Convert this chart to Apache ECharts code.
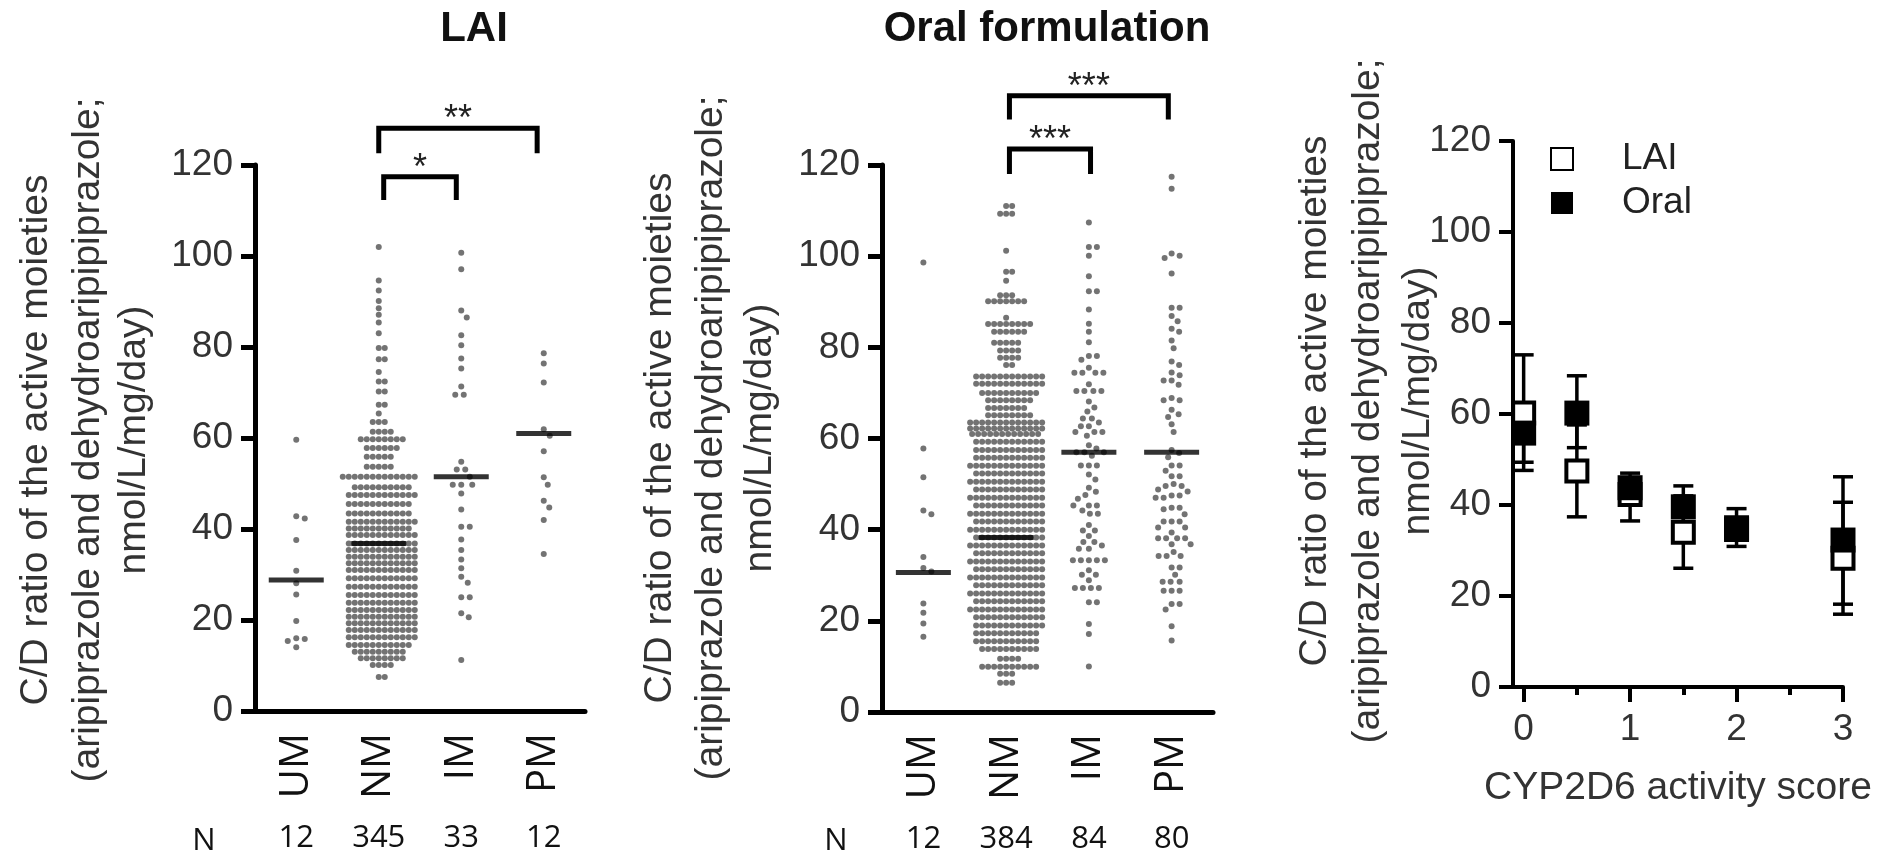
<!DOCTYPE html>
<html>
<head>
<meta charset="utf-8">
<title>CYP2D6 phenotype and aripiprazole C/D ratio</title>
<script src="https://cdn.jsdelivr.net/npm/echarts@6.0.0/dist/echarts.min.js"></script>
<style>
  html, body { margin: 0; padding: 0; background: #fff; }
  #chart { width: 1880px; height: 858px; }
</style>
</head>
<body>
<div id="chart"></div>
<script>
// ---- data ----
const phenotypes = ['UM', 'NM', 'IM', 'PM'];
const laiN = [12, 345, 33, 12];
const oralN = [12, 384, 84, 80];

// LAI panel
const laiUM = [59.6, 42.8, 42.3, 37.6, 30.8, 28.1, 25.6, 19.8, 16.0, 15.8, 15.4, 14.0];
// NM is dense, read as rows of dots: [value, dots in row]
const laiNMRows = [
  [102.0, 1], [94.6, 1], [92.4, 1], [90.1, 1], [88.5, 1], [87.1, 1], [85.4, 1], [83.0, 1],
  [79.8, 2], [77.3, 2], [74.5, 1], [72.4, 2], [70.2, 2], [67.3, 2], [65.4, 1], [63.5, 3],
  [61.4, 4], [59.7, 8], [57.8, 6], [55.9, 5], [53.7, 5], [51.5, 13], [49.2, 10], [47.5, 12],
  [45.5, 11], [43.4, 11], [41.6, 12], [40.1, 11], [38.7, 12], [36.8, 12], [35.4, 12], [33.9, 12],
  [32.5, 12], [31.0, 12], [29.2, 12], [27.3, 12], [25.5, 12], [23.8, 12], [22.2, 12], [20.7, 12],
  [19.3, 12], [17.8, 12], [16.2, 12], [14.5, 11], [13.0, 9], [11.6, 8], [10.1, 4], [7.5, 2]
];
const laiIM = [100.7, 97.1, 88.0, 86.5, 82.6, 80.4, 77.5, 75.3, 71.3, 69.5, 69.5, 54.8, 53.1, 53.1,
  51.5, 49.7, 49.7, 49.7, 47.8, 44.3, 40.5, 40.5, 37.7, 35.4, 33.3, 31.4, 29.5, 28.2, 25.0, 25.0,
  21.5, 20.6, 11.2];
const laiPM = [78.6, 76.4, 72.2, 61.9, 60.5, 57.1, 51.4, 49.7, 46.2, 44.7, 42.0, 34.5];
const laiMedians = [28.8, 36.8, 51.5, 61.0];
// brackets: [from, to, top, leg end]
const laiBrackets = [[1, 2.92, 128.1, 122.6], [1.06, 1.94, 117.4, 112.3]];
const laiStars = ['**', '*'];

// Oral panel
const oralUM = [98.6, 57.8, 51.5, 44.2, 43.4, 34.0, 31.6, 30.8, 23.8, 21.8, 19.4, 16.5];
const oralNMRows = [
  [111.0, 2], [109.3, 3], [101.2, 1], [96.6, 2], [94.6, 1], [91.4, 3], [90.1, 7], [86.5, 1],
  [85.1, 8], [83.4, 6], [81.0, 5], [79.3, 4], [77.7, 4], [76.1, 2], [73.6, 12], [72.0, 12],
  [70.0, 10], [68.4, 8], [66.7, 7], [65.1, 8], [63.5, 13], [62.2, 13], [61.0, 12], [59.3, 12],
  [57.5, 12], [55.8, 12], [54.0, 13], [52.3, 12], [50.5, 13], [48.8, 12], [47.0, 13], [45.3, 12],
  [43.5, 13], [41.8, 12], [40.0, 13], [38.3, 12], [36.5, 13], [34.8, 12], [33.0, 13], [31.3, 12],
  [29.5, 13], [27.8, 12], [26.0, 13], [24.3, 12], [22.5, 13], [20.8, 12], [19.0, 12], [17.3, 11],
  [15.5, 11], [13.8, 10], [11.7, 4], [9.9, 10], [8.4, 3], [6.4, 3]
];
const oralIM = [107.4, 102.0, 102.0, 100.1, 95.6, 92.3, 92.3, 88.3, 85.2, 83.4, 81.1, 78.1, 78.1,
  77.3, 75.5, 74.4, 74.4, 74.4, 74.4, 71.9, 70.4, 70.4, 70.4, 70.4, 68.1, 66.8, 65.9, 64.4, 64.4,
  63.5, 62.7, 62.7, 61.4, 61.4, 61.4, 60.6, 58.5, 57.8, 57.0, 57.0, 57.0, 56.2, 54.1, 54.1, 54.1,
  52.1, 51.0, 49.2, 48.3, 47.6, 46.8, 45.3, 45.3, 45.3, 44.2, 43.5, 43.5, 41.0, 39.8, 39.8, 38.6,
  37.3, 37.3, 36.5, 35.8, 35.8, 33.3, 33.3, 33.3, 33.3, 33.3, 31.1, 30.1, 30.1, 28.9, 27.2, 27.2,
  27.2, 27.2, 24.1, 24.1, 19.3, 17.1, 10.0];
const oralPM = [117.4, 114.8, 100.6, 100.1, 99.6, 96.2, 88.7, 88.7, 86.9, 85.7, 84.1, 83.4, 81.5,
  79.8, 76.9, 76.1, 74.5, 73.9, 72.7, 72.7, 71.8, 68.9, 68.4, 68.4, 66.3, 65.3, 64.7, 63.1, 61.4,
  57.5, 56.8, 55.9, 54.1, 54.1, 52.9, 51.7, 51.7, 50.0, 49.6, 49.6, 48.8, 48.4, 47.5, 47.5, 47.0,
  47.0, 44.8, 44.8, 44.5, 43.4, 41.8, 41.8, 41.8, 40.5, 40.5, 39.4, 38.1, 38.1, 38.1, 38.1, 36.8,
  36.8, 35.1, 34.2, 34.2, 34.2, 31.7, 31.7, 30.1, 28.6, 28.6, 28.6, 26.6, 26.6, 26.6, 23.7, 23.7,
  22.5, 18.8, 15.7];
const oralMedians = [30.6, 38.3, 57.0, 57.0];
const oralBrackets = [[1.04, 2.96, 135.2, 130.0], [1.04, 2.02, 123.5, 118.0]];
const oralStars = ['***', '***'];

// Activity score panel (mean with error bar)
const activityScores = [0, 0.5, 1, 1.5, 2, 3];
const laiMean = [60.2, 47.5, 42.3, 34.0, 34.6, 28.3];
const laiLow = [47.6, 37.4, 36.5, 26.1, 33.0, 16.0];
const laiHigh = [73.0, 57.6, 46.0, 42.0, 36.2, 40.6];
const oralMean = [55.8, 60.2, 43.8, 39.6, 35.0, 32.3];
const oralLow = [49.4, 52.6, 41.2, 35.0, 30.9, 18.2];
const oralHigh = [62.2, 68.4, 47.0, 44.2, 39.2, 46.2];
const scoreTicks = [0, 1, 2, 3];
const halfTicks = [0.5, 1.5, 2.5];

const yNameLines = ['C/D ratio of the active moieties', '(aripiprazole and dehydroaripipiprazole;', 'nmol/L/mg/day)'];

// ---- layout ----
const grids = [
  { left: 255, top: 165, width: 330, height: 546 },
  { left: 882, top: 165, width: 331, height: 547 },
  { left: 1513, top: 141, width: 330, height: 546 }
];
const FONT = 'Liberation Sans';
const CAT_FONT = 'Open Sans';
const DOT = '#505050';

function expand(rows) {
  const out = [];
  rows.forEach(([v, n]) => { for (let i = 0; i < n; i++) out.push(v); });
  return out;
}

// simple beeswarm: put each dot as close to the centre as it can go without overlap
function swarm(values, cat, gap, grid) {
  const pxX = grid.width / 4;
  const pxY = grid.height / 120;
  const placed = [];
  values.slice().sort((a, b) => b - a).forEach((v) => {
    const y = v * pxY;
    for (let k = 0; k < 2000; k++) {
      const dx = (k % 2 ? 1 : -1) * Math.ceil(k / 2) * 0.5;
      const ok = placed.every((p) => Math.abs(p[1] - y) >= gap || (p[0] - dx) ** 2 + (p[1] - y) ** 2 >= gap * gap);
      if (ok) { placed.push([dx, y, v]); break; }
    }
  });
  return placed.map((p) => [cat + p[0] / pxX, p[2]]);
}

function panelDots(groups, grid) {
  let pts = [];
  groups.forEach((g, i) => { pts = pts.concat(swarm(g.values, i, g.gap, grid)); });
  return pts;
}

const laiDots = panelDots([
  { values: laiUM, gap: 8.5 }, { values: expand(laiNMRows), gap: 5.7 },
  { values: laiIM, gap: 8.5 }, { values: laiPM, gap: 8.5 }
], grids[0]);
const oralDots = panelDots([
  { values: oralUM, gap: 8.5 }, { values: expand(oralNMRows), gap: 5.8 },
  { values: oralIM, gap: 8 }, { values: oralPM, gap: 8 }
], grids[1]);

function catAxis(grid) {
  return {
    type: 'category', gridIndex: grid, position: 'bottom', data: phenotypes, boundaryGap: true,
    axisLine: { onZero: false, lineStyle: { color: '#000', width: 5 } },
    axisTick: { alignWithLabel: true, length: 14, lineStyle: { color: '#000', width: 5 } },
    axisLabel: { rotate: 90, margin: 22, fontSize: 40, fontFamily: CAT_FONT, color: '#111', interval: 0 },
    splitLine: { show: false }
  };
}
function nAxis(grid, counts) {
  return {
    type: 'category', gridIndex: grid, position: 'bottom', offset: 104, data: counts.map(String),
    boundaryGap: true, axisLine: { show: false }, axisTick: { show: false },
    axisLabel: { margin: 8, fontSize: 31, fontFamily: CAT_FONT, color: '#111', interval: 0 },
    splitLine: { show: false }
  };
}
function hiddenX(grid) {
  return { type: 'value', gridIndex: grid, min: -0.5, max: 3.5, show: false };
}
function yAxis(grid, w) {
  return {
    type: 'value', gridIndex: grid, min: 0, max: 120, interval: 20,
    axisLine: { show: true, onZero: false, lineStyle: { color: '#000', width: w } },
    axisTick: { show: true, length: 14, lineStyle: { color: '#000', width: w } },
    axisLabel: { margin: 22, fontSize: 37, fontFamily: FONT, color: '#333' },
    splitLine: { show: false }
  };
}

function bracketRenderer(stars) {
  return function (params, api) {
    const a = api.coord([api.value(0), api.value(3)]);
    const b = api.coord([api.value(0), api.value(2)]);
    const c = api.coord([api.value(1), api.value(2)]);
    const d = api.coord([api.value(1), api.value(3)]);
    return {
      type: 'group',
      children: [
        { type: 'polyline', shape: { points: [a, b, c, d] },
          style: { stroke: '#000', lineWidth: 5, fill: 'none', lineJoin: 'miter' } },
        { type: 'text', x: (b[0] + c[0]) / 2, y: b[1] + 10,
          style: { text: stars[params.dataIndex], fill: '#222', fontSize: 36, fontFamily: FONT,
            align: 'center', verticalAlign: 'bottom' } }
      ]
    };
  };
}

function errorBarRenderer(params, api) {
  const x = api.value(0);
  const lo = api.coord([x, api.value(1)]);
  const hi = api.coord([x, api.value(2)]);
  const cap = 10;
  const st = { stroke: '#000', lineWidth: 3.5 };
  return {
    type: 'group',
    children: [
      { type: 'line', shape: { x1: lo[0], y1: lo[1], x2: hi[0], y2: hi[1] }, style: st },
      { type: 'line', shape: { x1: lo[0] - cap, y1: lo[1], x2: lo[0] + cap, y2: lo[1] }, style: st },
      { type: 'line', shape: { x1: hi[0] - cap, y1: hi[1], x2: hi[0] + cap, y2: hi[1] }, style: st }
    ]
  };
}

function medianData(meds) {
  return meds.map((m, i) => [i, m]);
}

const yNameX = [[36, 88, 134], [660, 711, 760], [1315, 1368, 1418]];
const yNameY = [440, 438, 401];
const graphics = [];
yNameX.forEach((xs, p) => {
  xs.forEach((x, i) => {
    graphics.push({
      type: 'text', x: x, y: yNameY[p], rotation: Math.PI / 2,
      style: { text: yNameLines[i], fontSize: 39, fontFamily: FONT, fill: '#333', align: 'center', verticalAlign: 'middle' }
    });
  });
});
graphics.push(
  { type: 'text', x: 474, y: 29, style: { text: 'LAI', fontSize: 42, fontWeight: 'bold', fontFamily: FONT, fill: '#111', align: 'center', verticalAlign: 'middle' } },
  { type: 'text', x: 1047, y: 29, style: { text: 'Oral formulation', fontSize: 42, fontWeight: 'bold', fontFamily: FONT, fill: '#111', align: 'center', verticalAlign: 'middle' } },
  { type: 'text', x: 204, y: 841, style: { text: 'N', fontSize: 31, fontFamily: CAT_FONT, fill: '#111', align: 'center', verticalAlign: 'middle' } },
  { type: 'text', x: 836, y: 841, style: { text: 'N', fontSize: 31, fontFamily: CAT_FONT, fill: '#111', align: 'center', verticalAlign: 'middle' } }
);

const chart = echarts.init(document.getElementById('chart'), null, { renderer: 'canvas' });

const option = {
  animation: false,
  backgroundColor: '#fff',
  graphic: graphics,
  legend: {
    data: [{ name: 'LAI', icon: 'rect' }, { name: 'Oral', icon: 'rect' }],
    orient: 'vertical', left: 1545, top: 134, itemWidth: 22, itemHeight: 22, itemGap: 4,
    textStyle: { fontSize: 37, fontFamily: FONT, color: '#222', lineHeight: 40, padding: [0, 0, 0, 44] },
    selectedMode: false
  },
  grid: grids.map((g) => Object.assign({ containLabel: false, outerBoundsMode: 'none' }, g)),
  xAxis: [
    catAxis(0), hiddenX(0), nAxis(0, laiN),
    catAxis(1), hiddenX(1), nAxis(1, oralN),
    {
      type: 'value', gridIndex: 2, position: 'bottom', min: -0.1, max: 3,
      axisLine: { onZero: false, lineStyle: { color: '#000', width: 4 } },
      axisTick: { show: true, customValues: scoreTicks, length: 15, lineStyle: { color: '#000', width: 4 } },
      axisLabel: { customValues: scoreTicks, margin: 24, fontSize: 37, fontFamily: FONT, color: '#333' },
      splitLine: { show: false },
      name: 'CYP2D6 activity score', nameLocation: 'middle', nameGap: 82,
      nameTextStyle: { fontSize: 39, fontFamily: FONT, color: '#333' }
    },
    {
      type: 'value', gridIndex: 2, position: 'bottom', min: -0.1, max: 3,
      axisLine: { show: false }, axisLabel: { show: false }, splitLine: { show: false },
      axisTick: { show: true, customValues: halfTicks, length: 8, lineStyle: { color: '#000', width: 4 } }
    }
  ],
  yAxis: [yAxis(0, 5), yAxis(1, 5), yAxis(2, 4)],
  series: [
    { type: 'scatter', xAxisIndex: 1, yAxisIndex: 0, data: laiDots, symbolSize: 6,
      itemStyle: { color: DOT }, z: 2, silent: true },
    { type: 'scatter', xAxisIndex: 1, yAxisIndex: 0, data: medianData(laiMedians), symbol: 'rect',
      symbolSize: [55, 5], itemStyle: { color: '#000' }, z: 3, silent: true },
    { type: 'custom', xAxisIndex: 1, yAxisIndex: 0, data: laiBrackets, clip: false,
      renderItem: bracketRenderer(laiStars), z: 3, silent: true },

    { type: 'scatter', xAxisIndex: 4, yAxisIndex: 1, data: oralDots, symbolSize: 6,
      itemStyle: { color: DOT }, z: 2, silent: true },
    { type: 'scatter', xAxisIndex: 4, yAxisIndex: 1, data: medianData(oralMedians), symbol: 'rect',
      symbolSize: [55, 5], itemStyle: { color: '#000' }, z: 3, silent: true },
    { type: 'custom', xAxisIndex: 4, yAxisIndex: 1, data: oralBrackets, clip: false,
      renderItem: bracketRenderer(oralStars), z: 3, silent: true },

    { type: 'custom', xAxisIndex: 6, yAxisIndex: 2, clip: false, renderItem: errorBarRenderer, z: 2, silent: true,
      data: activityScores.map((x, i) => [x, laiLow[i], laiHigh[i]]) },
    { type: 'custom', xAxisIndex: 6, yAxisIndex: 2, clip: false, renderItem: errorBarRenderer, z: 2, silent: true,
      data: activityScores.map((x, i) => [x, oralLow[i], oralHigh[i]]) },
    { name: 'LAI', type: 'scatter', xAxisIndex: 6, yAxisIndex: 2, symbol: 'rect', symbolSize: 21,
      data: activityScores.map((x, i) => [x, laiMean[i]]),
      itemStyle: { color: '#fff', borderColor: '#000', borderWidth: 4, opacity: 1 }, z: 3 },
    { name: 'Oral', type: 'scatter', xAxisIndex: 6, yAxisIndex: 2, symbol: 'rect', symbolSize: 25,
      data: activityScores.map((x, i) => [x, oralMean[i]]),
      itemStyle: { color: '#000', opacity: 1 }, z: 4 }
  ]
};

chart.setOption(option);
</script>
</body>
</html>
